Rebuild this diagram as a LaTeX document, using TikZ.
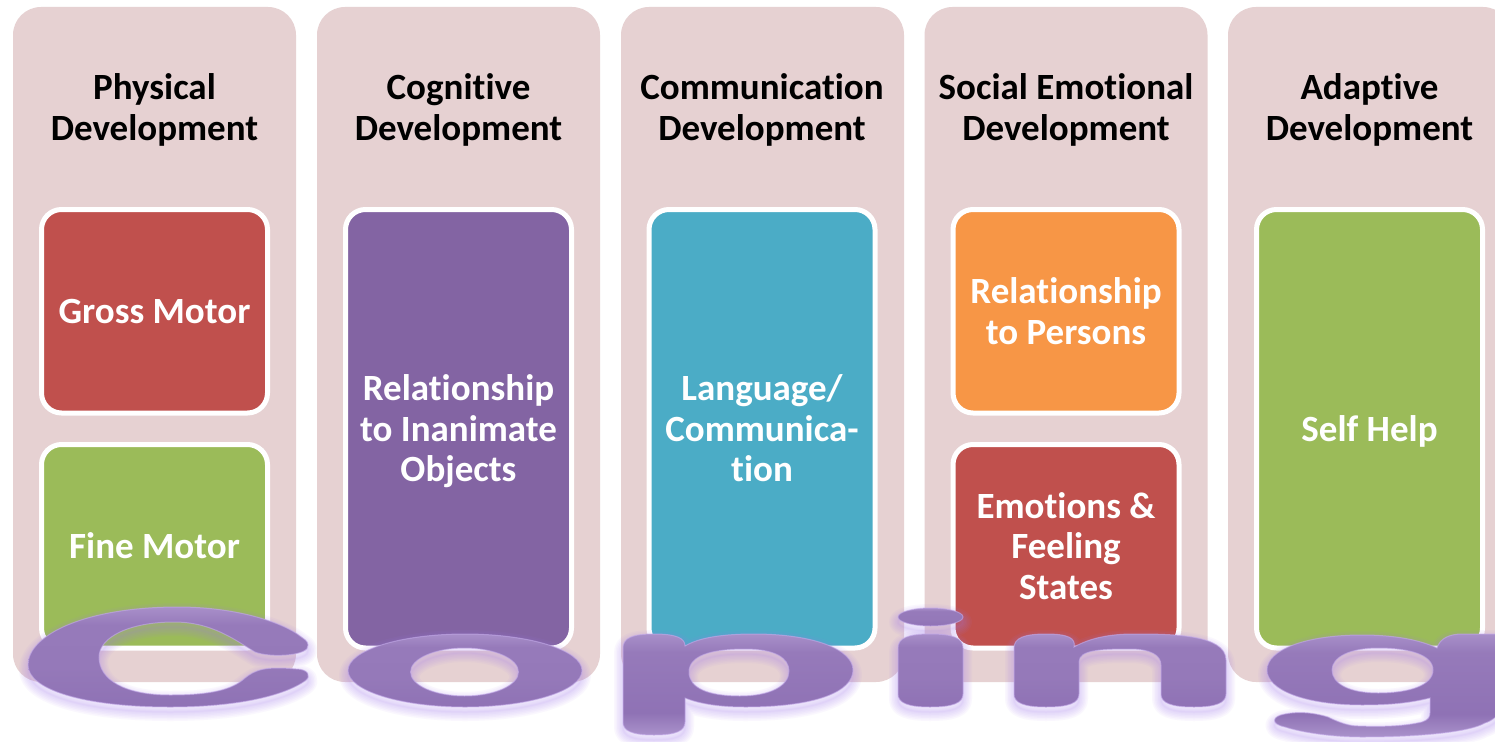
\documentclass[tikz,border=0pt]{standalone}
\usepackage{fontspec}
\setmainfont{Carlito}[Ligatures=NoCommon]
\usepackage{xcolor}
\definecolor{panelbg}{HTML}{E6D1D2}
\definecolor{redbox}{HTML}{C0504D}
\definecolor{greenbox}{HTML}{9BBB59}
\definecolor{purplebox}{HTML}{8364A3}
\definecolor{bluebox}{HTML}{4BACC6}
\definecolor{orangebox}{HTML}{F79646}
\definecolor{letterlight}{HTML}{A88FC9}
\definecolor{letterpale}{HTML}{AA92CB}
\definecolor{lettermid}{HTML}{967ABA}
\definecolor{lettersoft}{HTML}{9579B9}
\definecolor{letterdark}{HTML}{8F72B5}
\definecolor{letterglow}{HTML}{A67EEE}
\definecolor{letteredge}{HTML}{C4ABEA}
\pgfdeclareverticalshading{wordface}{100bp}{
  color(0bp)=(letterdark); color(25bp)=(letterdark);
  color(45bp)=(lettersoft); color(66bp)=(lettermid);
  color(75bp)=(letterlight); color(100bp)=(letterlight)}
\pgfdeclareverticalshading{wordlong}{100bp}{
  color(0bp)=(letterpale); color(25bp)=(letterpale);
  color(36bp)=(letterdark); color(66bp)=(lettermid);
  color(75bp)=(letterlight); color(100bp)=(letterlight)}
\tikzset{
  panel/.style={fill=panelbg, rounded corners=28pt, minimum width=283pt, minimum height=675pt, outer sep=0pt},
  box/.style={draw=white, line width=5pt, rounded corners=20pt, minimum width=226pt, outer sep=0pt,
    text=white, align=center, font=\fontsize{37}{40.5}\selectfont\bfseries,
    execute at begin node=\rule{0pt}{37pt}, execute at end node=\rule[-12pt]{0pt}{12pt}},
  twolines/.style={execute at begin node=\rule{0pt}{77.5pt}},
  threelines/.style={execute at begin node=\rule{0pt}{118pt}},
  halfbox/.style={box, minimum height=203.5pt},
  fullbox/.style={box, minimum height=438.5pt},
  title/.style={text=black, align=center, font=\fontsize{37}{41}\selectfont\bfseries},
  face/.style={even odd rule, shading=wordface},
  facelong/.style={even odd rule, shading=wordlong},
  rim/.style={draw=letteredge, line width=1pt, opacity=0.6},
  glow/.style={draw=letterglow, line join=round, shift={(0,5)}}
}
\def\letterc{(300,636) .. controls (285,624) and (240,607) .. (178,607)
  .. controls (85,607) and (28,635) .. (28,665)
  .. controls (28,690) and (85,707) .. (170,707)
  .. controls (240,707) and (285,695) .. (305,681)
  .. controls (312,676) and (308,669) .. (296,669)
  .. controls (265,666) and (255,670) .. (245,678)
  .. controls (232,690) and (210,695) .. (170,695)
  .. controls (125,695) and (99,680) .. (99,657)
  .. controls (99,637) and (130,622) .. (174,622)
  .. controls (212,622) and (235,640) .. (255,652)
  .. controls (270,658) and (310,656) .. (308,645)
  .. controls (308,641) and (304,639) .. (300,636) -- cycle}
\def\lettero{(465,670.5) ellipse [x radius=117, y radius=36.5]
  (464.5,672) ellipse [x radius=54, y radius=24]}
\def\letterp{(623,648) .. controls (623,638) and (632,634) .. (654,634)
  .. controls (676,634) and (685,638) .. (685,646)
  .. controls (700,637) and (725,634) .. (754,634)
  .. controls (815,634) and (853,650) .. (853,670)
  .. controls (853,692) and (815,707) .. (745,707)
  .. controls (720,707) and (700,704) .. (685,698)
  -- (685,722) .. controls (685,731) and (676,735) .. (654,735)
  .. controls (632,735) and (623,731) .. (623,722) -- cycle
  (689,672) .. controls (689,656) and (710,649) .. (745,649)
  .. controls (775,649) and (789,658) .. (789,671)
  .. controls (789,686) and (770,696) .. (740,696)
  .. controls (708,696) and (689,688) .. (689,672) -- cycle}
\def\letteri{(898,648) .. controls (898,638) and (908,634) .. (930,634)
  .. controls (953,634) and (963,638) .. (963,648)
  -- (963,694) .. controls (963,703) and (953,707) .. (930,707)
  .. controls (908,707) and (898,703) .. (898,694) -- cycle}
\def\letterdot{(930.5,617) ellipse [x radius=32.5, y radius=9]}
\def\lettern{(1014,648) .. controls (1014,638) and (1024,634) .. (1046,634)
  .. controls (1068,634) and (1076,638) .. (1074,647)
  .. controls (1090,638) and (1110,634) .. (1133,634)
  .. controls (1170,634) and (1226,634) .. (1226,660)
  -- (1226,694) .. controls (1226,703) and (1216,707) .. (1194,707)
  .. controls (1171,707) and (1161,703) .. (1161,694)
  -- (1161,665) .. controls (1161,655) and (1150,649) .. (1130,649)
  .. controls (1100,649) and (1079,650) .. (1079,662)
  -- (1079,694) .. controls (1079,703) and (1069,707) .. (1046,707)
  .. controls (1024,707) and (1014,703) .. (1014,694) -- cycle}
\def\letterg{(1267,670) .. controls (1267,650) and (1305,635) .. (1362,635)
  .. controls (1395,635) and (1420,640) .. (1437,648)
  .. controls (1440,638) and (1450,634) .. (1462,634)
  -- (1515,634) -- (1515,700)
  .. controls (1500,715) and (1490,722) .. (1485,723)
  .. controls (1470,732) and (1420,737) .. (1362,737)
  .. controls (1330,737) and (1300,732) .. (1285,727)
  .. controls (1270,724) and (1272,716) .. (1285,714)
  .. controls (1300,711) and (1315,713) .. (1328,717)
  .. controls (1340,723) and (1350,726) .. (1358,726)
  .. controls (1385,727) and (1405,726) .. (1422,722)
  .. controls (1428,720) and (1430,717) .. (1430,713)
  -- (1430,698) .. controls (1410,703) and (1390,705) .. (1362,705)
  .. controls (1305,705) and (1267,690) .. (1267,670) -- cycle
  (1332,670) .. controls (1332,657) and (1350,648) .. (1378,648)
  .. controls (1410,648) and (1433,655) .. (1433,670)
  .. controls (1433,685) and (1410,693) .. (1378,693)
  .. controls (1350,693) and (1332,684) .. (1332,670) -- cycle}
\newcommand{\glowletter}[2]{%
  \foreach \gw in {18,15,12,9,6,3,1}{
    \draw[glow, line width=\gw pt, opacity=0.055] #1;
  }
  \path[#2] #1;
  \draw[rim] #1;
}

\begin{document}
\begin{tikzpicture}[x=1pt,y=-1pt]
  \useasboundingbox (0,0) rectangle (1495,741);
  \clip (0,0) rectangle (1495,741);
  \fill[white] (0,0) rectangle (1495,741);
  % columns
  \node[panel] (physical) at (154.5,344.5) {};
  \node[panel] (cognitive) at (458.5,344.5) {};
  \node[panel] (communication) at (762.5,344.5) {};
  \node[panel] (social) at (1066,344.5) {};
  \node[panel] (adaptive) at (1369.5,344.5) {};
  % headings
  \node[title] (physicalhead) at (154.5,109.5) {Physical\\Development};
  \node[title] (cognitivehead) at (458.5,109.5) {Cognitive\\Development};
  \node[title] (communicationhead) at (762,109.5) {Communication\\Development};
  \node[title] (socialhead) at (1066,109.5) {Social Emotional\\Development};
  \node[title] (adaptivehead) at (1369.5,109.5) {Adaptive\\Development};
  % boxes
  \node[halfbox, fill=redbox] (gross) at (154.5,311.25) {Gross Motor};
  \node[halfbox, fill=greenbox] (fine) at (154.5,546.25) {Fine Motor};
  \node[fullbox, threelines, fill=purplebox] (inanimate) at (458.5,428.75) {Relationship\\to Inanimate\\Objects};
  \node[fullbox, threelines, fill=bluebox] (language) at (762,428.75) {Language/\\Communica-\\tion};
  \node[halfbox, twolines, fill=orangebox] (persons) at (1066,311.25) {Relationship\\to Persons};
  \node[halfbox, threelines, fill=redbox] (emotions) at (1066,546.25) {Emotions \&\\Feeling\\States};
  \node[fullbox, fill=greenbox] (selfhelp) at (1369.5,428.75) {Self Help};
  % the word across the bottom
  \glowletter{\letterc}{face}
  \glowletter{\lettero}{face}
  \glowletter{\letterp}{facelong}
  \glowletter{\letterdot}{face}
  \glowletter{\letteri}{face}
  \glowletter{\lettern}{face}
  \glowletter{\letterg}{facelong}
\end{tikzpicture}
\end{document}
